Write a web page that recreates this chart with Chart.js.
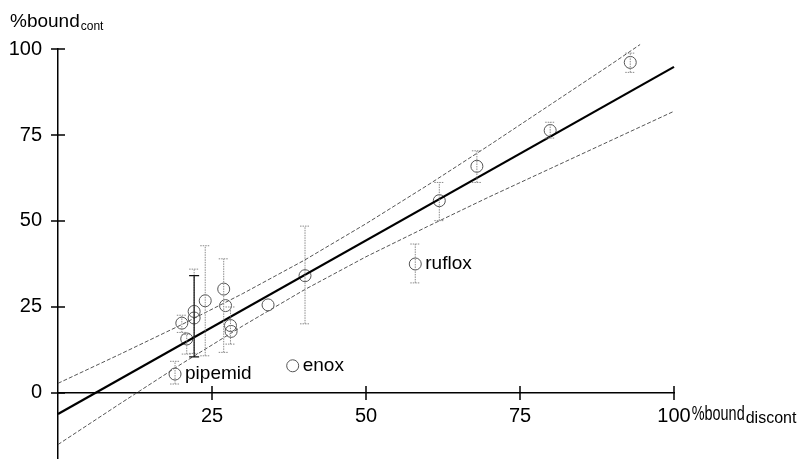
<!DOCTYPE html>
<html>
<head>
<meta charset="utf-8">
<script src="https://cdn.jsdelivr.net/npm/chart.js@4/dist/chart.umd.min.js"></script>
<style>
  html, body { margin: 0; padding: 0; background: #fff; }
  #wrap { width: 801px; height: 459px; position: relative; }
</style>
</head>
<body>
<div id="wrap"><canvas id="c" width="801" height="459"></canvas></div>
<script>
// ---- data ----
const boundDiscont = [19.0, 20.1, 22.1, 22.1, 20.9, 23.9, 26.9, 27.2, 28.0, 28.1, 34.1, 40.1, 38.1, 58.0, 61.9, 68.0, 79.9, 92.9];
const boundCont    = [5.5, 20.3, 23.7, 21.8, 15.7, 26.8, 30.2, 25.4, 19.6, 17.9, 25.6, 34.1, 7.9, 37.5, 55.9, 65.9, 76.3, 96.1];
const errLow       = [2.6, 17.6, 11.5, 10.5, 11.3, 10.8, 11.8, null, 14.2, null, null, 20.1, null, 32.0, 50.1, 61.2, 74.1, 93.2];
const errHigh      = [9.2, 22.6, 36.0, 34.1, 17.0, 42.8, 39.0, null, 25.0, null, null, 48.5, null, 43.3, 61.2, 70.4, 78.7, 98.8];
const errSolid     = [false, false, false, true, false, false, false, false, false, false, false, false, false, false, false, false, false, false];
const pointNames   = ['pipemid', '', '', '', '', '', '', '', '', '', '', '', 'enox', 'ruflox', '', '', '', ''];

const fitX = [0, 100];
const fitY = [-6.1, 94.8];
const ciUpperX = [0, 10, 20, 30, 40, 50, 60, 70, 80, 90, 94.5];
const ciUpperY = [2.8, 11.2, 19.8, 28.9, 38.6, 49.2, 60.4, 72.0, 83.9, 95.8, 101.3];
const ciLowerX = [0, 10, 20, 30, 40, 50, 60, 70, 80, 90, 100];
const ciLowerY = [-15.0, -3.2, 8.4, 19.5, 30.0, 39.6, 48.4, 57.0, 65.3, 73.6, 81.9];

const xTicks = [25, 50, 75, 100];
const yTicks = [0, 25, 50, 75, 100];
const yTitle = '%bound';
const yTitleSub = 'cont';
const xTitle = '%bound';
const xTitleSub = 'discont';

const FONT = "'Liberation Sans', Arial, Helvetica, sans-serif";
const pts = (xs, ys) => xs.map((x, i) => ({ x: x, y: ys[i] }));

function squeezedText(ctx, text, x, y, targetW) {
  const w = ctx.measureText(text).width;
  const k = Math.min(1, targetW / w);
  ctx.save();
  ctx.translate(x, y);
  ctx.scale(k, 1);
  ctx.fillText(text, 0, 0);
  ctx.restore();
  return w * k;
}

const overlay = {
  id: 'overlay',
  afterDatasetsDraw(chart) {
    const ctx = chart.ctx;
    const xs = chart.scales.x, ys = chart.scales.y;
    ctx.save();
    // error bars
    boundDiscont.forEach((xv, i) => {
      if (errLow[i] == null) return;
      const px = xs.getPixelForValue(xv);
      const y1 = ys.getPixelForValue(errLow[i]);
      const y2 = ys.getPixelForValue(errHigh[i]);
      ctx.beginPath();
      if (errSolid[i]) { ctx.strokeStyle = '#111'; ctx.setLineDash([]); ctx.lineWidth = 1.2; }
      else { ctx.strokeStyle = '#8a8a8a'; ctx.setLineDash([1.5, 1]); ctx.lineWidth = 1; }
      ctx.moveTo(px, y1); ctx.lineTo(px, y2);
      ctx.moveTo(px - 5, y1); ctx.lineTo(px + 5, y1);
      ctx.moveTo(px - 5, y2); ctx.lineTo(px + 5, y2);
      ctx.stroke();
    });
    ctx.setLineDash([]);
    // tick marks crossing the axes
    ctx.strokeStyle = '#000';
    ctx.lineWidth = 1.5;
    const y0 = ys.getPixelForValue(0);
    const x0 = xs.getPixelForValue(0);
    ctx.beginPath();
    xTicks.forEach(v => {
      const p = xs.getPixelForValue(v);
      ctx.moveTo(p, y0 - 7); ctx.lineTo(p, y0 + 7);
    });
    yTicks.forEach(v => {
      const p = ys.getPixelForValue(v);
      ctx.moveTo(x0 - 7, p); ctx.lineTo(x0 + 7, p);
    });
    ctx.stroke();
    // point name labels
    ctx.fillStyle = '#000';
    ctx.font = '19px ' + FONT;
    ctx.textBaseline = 'middle';
    ctx.textAlign = 'left';
    pointNames.forEach((n, i) => {
      if (!n) return;
      ctx.fillText(n, xs.getPixelForValue(boundDiscont[i]) + 10, ys.getPixelForValue(boundCont[i]));
    });
    // axis titles
    ctx.textBaseline = 'alphabetic';
    ctx.font = '19px ' + FONT;
    ctx.fillText(yTitle, 10, 27);
    const w1 = ctx.measureText(yTitle).width;
    ctx.font = '12px ' + FONT;
    ctx.fillText(yTitleSub, 10 + w1 + 1, 30);
    ctx.font = '20px ' + FONT;
    const xEnd = xs.getPixelForValue(100) + ctx.measureText('100').width / 2 + 1;
    const xBase = ys.getPixelForValue(0) + 27;
    const w2 = squeezedText(ctx, xTitle, xEnd, xBase, 53);
    ctx.font = '16px ' + FONT;
    squeezedText(ctx, xTitleSub, xEnd + w2 + 1, xBase + 3, 54);
    ctx.restore();
  }
};

new Chart(document.getElementById('c'), {
  type: 'scatter',
  data: {
    datasets: [
      { data: pts(ciUpperX, ciUpperY), showLine: true, borderColor: '#555', borderWidth: 1, borderDash: [4, 2], pointRadius: 0, clip: false },
      { data: pts(ciLowerX, ciLowerY), showLine: true, borderColor: '#555', borderWidth: 1, borderDash: [4, 2], pointRadius: 0, clip: false },
      { data: pts(fitX, fitY), showLine: true, borderColor: '#000', borderWidth: 2.2, pointRadius: 0, clip: false },
      { data: pts(boundDiscont, boundCont), pointRadius: 6, pointBorderColor: '#555', pointBackgroundColor: 'rgba(255,255,255,0)', pointBorderWidth: 1, clip: false }
    ]
  },
  options: {
    responsive: false,
    animation: false,
    devicePixelRatio: 1,
    layout: { autoPadding: false, padding: { left: 0, right: 127, top: 49, bottom: 0 } },
    plugins: { legend: { display: false }, tooltip: { enabled: false } },
    scales: {
      x: {
        type: 'linear', min: 0, max: 100,
        position: { y: 0 },
        afterBuildTicks: s => { s.ticks = xTicks.map(v => ({ value: v })); },
        afterFit: s => { s.height = 0; },
        grid: { display: false, drawTicks: false },
        border: { display: true, color: '#000', width: 1.5 },
        ticks: { color: '#000', font: { family: FONT, size: 20 }, padding: 12, maxRotation: 0, autoSkip: false }
      },
      y: {
        type: 'linear', min: -19.2, max: 100,
        position: 'left',
        afterBuildTicks: s => { s.ticks = yTicks.map(v => ({ value: v })); },
        afterFit: s => { s.width = 58; s.paddingTop = 0; s.paddingBottom = 0; },
        grid: { display: false, drawTicks: false },
        border: { display: true, color: '#000', width: 1.5 },
        ticks: { color: '#000', font: { family: FONT, size: 20 }, padding: 16, autoSkip: false }
      }
    }
  },
  plugins: [overlay]
});
</script>
</body>
</html>
